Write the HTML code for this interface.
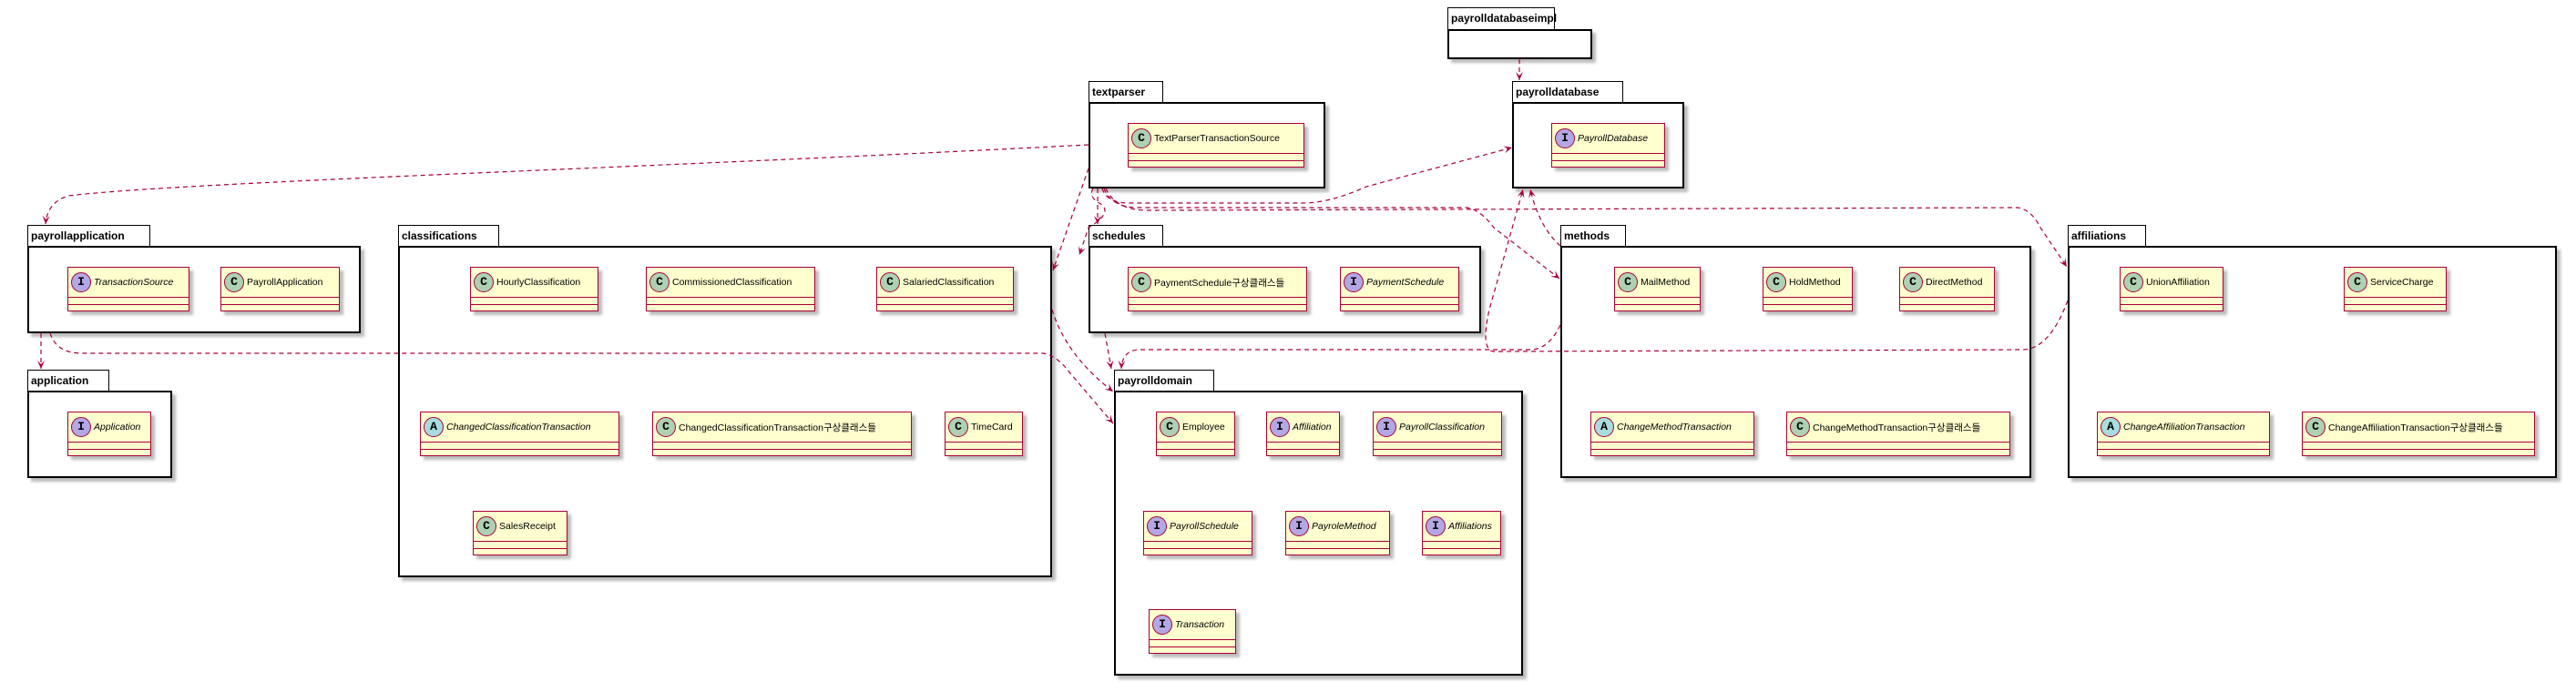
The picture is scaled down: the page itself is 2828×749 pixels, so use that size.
<!DOCTYPE html>
<html><head><meta charset="utf-8"><style>
body{margin:0;width:2828px;height:749px;background:#fff;position:relative;overflow:hidden;font-family:"Liberation Sans","Noto Sans CJK KR",sans-serif}
.pt{position:absolute;border:1.5px solid #000;border-bottom:none;background:#fff;font-weight:bold;font-size:12px;line-height:22px;padding-left:3px;box-sizing:border-box;height:24px}
.pb{position:absolute;border:2px solid #000;background:#fff;box-sizing:border-box;box-shadow:4px 4px 3px #bbb}
.c{position:absolute;background:#FEFECE;border:1.5px solid #A80036;box-sizing:border-box;height:49px;box-shadow:4px 4px 3px #bbb;font-size:10.5px}
.h{height:32px;border-bottom:1.5px solid #A80036;display:flex;align-items:center;white-space:nowrap;overflow:hidden}
.s{height:7px;border-bottom:1.5px solid #A80036}
.s:last-child{border-bottom:none}
.i{display:inline-block;width:20px;height:20px;border-radius:50%;border:1px solid #A80036;text-align:center;line-height:20px;font-weight:bold;font-size:13px;margin:0 3px 0 3px;flex:none;font-family:"Liberation Mono",monospace}
.C{background:#ADD1B2}.I{background:#B4A7E5}.A{background:#A9DCDF}
.it{font-style:italic}
svg{z-index:5}
</style></head><body>
<svg style="position:absolute;left:0;top:0" width="2828" height="749">
<defs><marker id="ar" markerWidth="10" markerHeight="10" refX="9" refY="5" orient="auto" markerUnits="userSpaceOnUse"><path d="M0,1 L9,5 L0,9 L4,5Z" fill="#A80036"/></marker></defs>
<g fill="none" stroke="#A80036" stroke-width="1.2" stroke-dasharray="5,4" marker-end="url(#ar)">
<path d="M1195,159 C700,185 200,200 75,215 Q52,222 50,246"/>
<path d="M1195,185 L1156,297"/>
<path d="M1205,207 L1205,246"/>
<path d="M1210,207 Q1215,223 1240,223 L1430,223 Q1460,223 1500,205 L1660,162"/>
<path d="M1212,207 Q1220,228 1250,228 L1610,228 Q1625,230 1640,250 L1712,306"/>
<path d="M1214,207 Q1225,231 1260,231 L2215,228 Q2230,230 2240,250 L2269,293"/>
<path d="M1200,207 Q1195,215 1205,222 Q1225,232 1195,250 L1185,280"/>
<path d="M45,366 L45,405"/>
<path d="M55,366 Q62,388 90,388 L1145,388 Q1160,390 1175,410 L1222,465"/>
<path d="M1155,340 Q1170,390 1222,430"/>
<path d="M1213,366 L1220,405"/>
<path d="M1713,357 Q1700,384 1680,384 L1250,384 Q1232,385 1231,405"/>
<path d="M1668,65 L1668,88"/>
<path d="M2270,330 Q2250,384 2220,384 L1640,386 Q1625,385 1635,340 L1672,208"/>
<path d="M1713,270 Q1690,250 1680,208"/>
</g></svg>

<div class="pt" style="left:1589px;top:8px;width:118px">payrolldatabaseimpl</div>
<div class="pb" style="left:1589px;top:32px;width:159px;height:33px"></div>

<div class="pt" style="left:1660px;top:89px;width:122px">payrolldatabase</div>
<div class="pb" style="left:1660px;top:112px;width:189px;height:95px"></div>
<div class="c" style="left:1703px;top:135px;width:125px"><div class="h"><span class="i I">I</span><span class="it">PayrollDatabase</span></div><div class="s"></div><div class="s"></div></div>

<div class="pt" style="left:1195px;top:89px;width:82px">textparser</div>
<div class="pb" style="left:1195px;top:112px;width:260px;height:95px"></div>
<div class="c" style="left:1238px;top:135px;width:194px"><div class="h"><span class="i C">C</span>TextParserTransactionSource</div><div class="s"></div><div class="s"></div></div>

<div class="pt" style="left:30px;top:247px;width:135px">payrollapplication</div>
<div class="pb" style="left:30px;top:270px;width:366px;height:96px"></div>
<div class="c" style="left:74px;top:293px;width:134px"><div class="h"><span class="i I">I</span><span class="it">TransactionSource</span></div><div class="s"></div><div class="s"></div></div>
<div class="c" style="left:242px;top:293px;width:131px"><div class="h"><span class="i C">C</span>PayrollApplication</div><div class="s"></div><div class="s"></div></div>

<div class="pt" style="left:30px;top:406px;width:90px">application</div>
<div class="pb" style="left:30px;top:429px;width:159px;height:96px"></div>
<div class="c" style="left:74px;top:452px;width:92px"><div class="h"><span class="i I">I</span><span class="it">Application</span></div><div class="s"></div><div class="s"></div></div>

<div class="pt" style="left:437px;top:247px;width:111px">classifications</div>
<div class="pb" style="left:437px;top:270px;width:718px;height:364px"></div>
<div class="c" style="left:516px;top:293px;width:141px"><div class="h"><span class="i C">C</span>HourlyClassification</div><div class="s"></div><div class="s"></div></div>
<div class="c" style="left:709px;top:293px;width:186px"><div class="h"><span class="i C">C</span>CommissionedClassification</div><div class="s"></div><div class="s"></div></div>
<div class="c" style="left:962px;top:293px;width:151px"><div class="h"><span class="i C">C</span>SalariedClassification</div><div class="s"></div><div class="s"></div></div>
<div class="c" style="left:461px;top:452px;width:219px"><div class="h"><span class="i A">A</span><span class="it">ChangedClassificationTransaction</span></div><div class="s"></div><div class="s"></div></div>
<div class="c" style="left:716px;top:452px;width:285px"><div class="h"><span class="i C">C</span>ChangedClassificationTransaction구상클래스들</div><div class="s"></div><div class="s"></div></div>
<div class="c" style="left:1037px;top:452px;width:86px"><div class="h"><span class="i C">C</span>TimeCard</div><div class="s"></div><div class="s"></div></div>
<div class="c" style="left:519px;top:561px;width:104px"><div class="h"><span class="i C">C</span>SalesReceipt</div><div class="s"></div><div class="s"></div></div>

<div class="pt" style="left:1195px;top:247px;width:82px">schedules</div>
<div class="pb" style="left:1195px;top:270px;width:431px;height:96px"></div>
<div class="c" style="left:1238px;top:293px;width:197px"><div class="h"><span class="i C">C</span>PaymentSchedule구상클래스들</div><div class="s"></div><div class="s"></div></div>
<div class="c" style="left:1471px;top:293px;width:131px"><div class="h"><span class="i I">I</span><span class="it">PaymentSchedule</span></div><div class="s"></div><div class="s"></div></div>

<div class="pt" style="left:1223px;top:406px;width:110px">payrolldomain</div>
<div class="pb" style="left:1223px;top:429px;width:449px;height:313px"></div>
<div class="c" style="left:1269px;top:452px;width:87px"><div class="h"><span class="i C">C</span>Employee</div><div class="s"></div><div class="s"></div></div>
<div class="c" style="left:1390px;top:452px;width:81px"><div class="h"><span class="i I">I</span><span class="it">Affiliation</span></div><div class="s"></div><div class="s"></div></div>
<div class="c" style="left:1507px;top:452px;width:142px"><div class="h"><span class="i I">I</span><span class="it">PayrollClassification</span></div><div class="s"></div><div class="s"></div></div>
<div class="c" style="left:1255px;top:561px;width:120px"><div class="h"><span class="i I">I</span><span class="it">PayrollSchedule</span></div><div class="s"></div><div class="s"></div></div>
<div class="c" style="left:1411px;top:561px;width:115px"><div class="h"><span class="i I">I</span><span class="it">PayroleMethod</span></div><div class="s"></div><div class="s"></div></div>
<div class="c" style="left:1561px;top:561px;width:87px"><div class="h"><span class="i I">I</span><span class="it">Affiliations</span></div><div class="s"></div><div class="s"></div></div>
<div class="c" style="left:1261px;top:669px;width:96px"><div class="h"><span class="i I">I</span><span class="it">Transaction</span></div><div class="s"></div><div class="s"></div></div>

<div class="pt" style="left:1713px;top:247px;width:72px">methods</div>
<div class="pb" style="left:1713px;top:270px;width:517px;height:255px"></div>
<div class="c" style="left:1772px;top:293px;width:95px"><div class="h"><span class="i C">C</span>MailMethod</div><div class="s"></div><div class="s"></div></div>
<div class="c" style="left:1935px;top:293px;width:99px"><div class="h"><span class="i C">C</span>HoldMethod</div><div class="s"></div><div class="s"></div></div>
<div class="c" style="left:2085px;top:293px;width:105px"><div class="h"><span class="i C">C</span>DirectMethod</div><div class="s"></div><div class="s"></div></div>
<div class="c" style="left:1746px;top:452px;width:180px"><div class="h"><span class="i A">A</span><span class="it">ChangeMethodTransaction</span></div><div class="s"></div><div class="s"></div></div>
<div class="c" style="left:1961px;top:452px;width:246px"><div class="h"><span class="i C">C</span>ChangeMethodTransaction구상클래스들</div><div class="s"></div><div class="s"></div></div>

<div class="pt" style="left:2270px;top:247px;width:86px">affiliations</div>
<div class="pb" style="left:2270px;top:270px;width:537px;height:255px"></div>
<div class="c" style="left:2327px;top:293px;width:114px"><div class="h"><span class="i C">C</span>UnionAffiliation</div><div class="s"></div><div class="s"></div></div>
<div class="c" style="left:2573px;top:293px;width:113px"><div class="h"><span class="i C">C</span>ServiceCharge</div><div class="s"></div><div class="s"></div></div>
<div class="c" style="left:2302px;top:452px;width:190px"><div class="h"><span class="i A">A</span><span class="it">ChangeAffiliationTransaction</span></div><div class="s"></div><div class="s"></div></div>
<div class="c" style="left:2527px;top:452px;width:256px"><div class="h"><span class="i C">C</span>ChangeAffiliationTransaction구상클래스들</div><div class="s"></div><div class="s"></div></div>
</body></html>
